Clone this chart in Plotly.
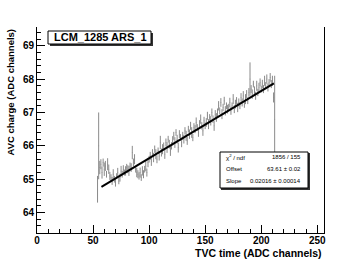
import plotly.graph_objects as go

# ---- data ----
x_channels = list(range(54, 213))
charge = [
    64.70, 66.00,
    65.35, 65.45, 65.20, 65.50, 65.30, 65.40, 65.15, 65.45, 65.30, 65.10,
    65.05, 64.95, 65.15, 65.00, 64.90, 65.10, 65.20, 64.95, 65.05, 65.25,
    65.15, 65.30, 65.20, 65.25, 65.35,
    65.30, 65.25, 65.40, 65.35, 65.80, 65.50, 65.60, 65.30, 65.20, 65.15,
    65.10, 65.20, 65.05, 65.25, 65.15, 65.30, 65.40, 65.20, 65.50, 65.60,
    65.70, 65.55, 65.80, 65.65, 65.90, 65.75, 65.60, 65.85, 65.70, 66.10,
    65.80, 65.90, 66.00, 65.75, 66.10, 65.95, 66.20, 66.05, 65.85, 66.00,
    66.15, 66.30, 66.10, 66.40, 66.20, 65.95, 66.35, 66.25, 66.10, 66.30,
    66.20, 66.45, 66.30, 66.15, 66.50, 66.35, 66.60, 66.40, 66.25, 66.55,
    66.50, 66.70, 66.55, 66.40, 66.65, 66.80, 66.60, 66.45, 66.75, 66.60,
    66.70, 66.90, 66.65, 66.85, 66.75, 67.00, 66.80, 66.60, 66.95, 66.85,
    67.00, 67.20, 67.05, 67.30, 66.95, 67.15, 67.35, 67.05, 67.20, 67.10,
    67.15, 67.30, 67.05, 67.20, 67.40, 67.10, 67.25, 67.35, 67.15, 67.30,
    67.20, 67.45, 67.30, 67.50, 67.25, 67.40, 67.55, 67.35, 67.60, 68.00,
    67.70, 67.55, 67.85, 67.65, 67.50, 67.80, 67.60, 67.75, 67.90, 67.70,
    67.85, 67.70, 67.95, 67.80, 68.00, 67.75, 67.90, 68.05, 67.85, 67.95,
    67.45, 66.80,
]
charge_err = [
    0.40, 1.00,
    0.20, 0.15, 0.18, 0.12, 0.20, 0.15, 0.10, 0.18, 0.14, 0.12,
    0.10, 0.12, 0.15, 0.10, 0.12, 0.08, 0.14, 0.10, 0.12, 0.15,
    0.10, 0.12, 0.09, 0.14, 0.11,
    0.12, 0.15, 0.10, 0.13, 0.20, 0.12, 0.15, 0.10, 0.14, 0.12,
    0.11, 0.15, 0.10, 0.14, 0.12, 0.10, 0.16, 0.12, 0.14, 0.10,
    0.12, 0.15, 0.10, 0.14, 0.11, 0.15, 0.12, 0.10, 0.14, 0.20,
    0.12, 0.15, 0.10, 0.14, 0.12, 0.16, 0.10, 0.13, 0.15, 0.11,
    0.14, 0.12, 0.16, 0.10, 0.13, 0.15, 0.12, 0.10, 0.14, 0.12,
    0.13, 0.11, 0.15, 0.12, 0.10, 0.14, 0.12, 0.16, 0.11, 0.13,
    0.12, 0.15, 0.10, 0.13, 0.12, 0.14, 0.11, 0.15, 0.12, 0.10,
    0.13, 0.12, 0.15, 0.10, 0.14, 0.12, 0.11, 0.15, 0.12, 0.13,
    0.12, 0.14, 0.10, 0.13, 0.15, 0.11, 0.12, 0.14, 0.10, 0.13,
    0.11, 0.14, 0.12, 0.10, 0.15, 0.12, 0.13, 0.11, 0.14, 0.12,
    0.10, 0.13, 0.12, 0.14, 0.11, 0.15, 0.12, 0.10, 0.13, 0.50,
    0.12, 0.14, 0.10, 0.13, 0.12, 0.15, 0.11, 0.14, 0.12, 0.10,
    0.13, 0.12, 0.15, 0.11, 0.14, 0.12, 0.10, 0.13, 0.12, 0.15,
    0.15, 1.30,
]
fit_offset = 63.61
fit_slope = 0.02016
fit_range = [57.5, 211.3]
x_ticks = [0, 50, 100, 150, 200, 250]
y_ticks = [64, 65, 66, 67, 68, 69]
title_text = "LCM_1285 ARS_1"
stats_labels = ["χ<sup>2</sup> / ndf", "Offset", "Slope"]
stats_values = ["1856 / 155", "63.61 ± 0.02", "0.02016 ± 0.00014"]

FONT = "Liberation Sans, Arial, sans-serif"
W, H = 360, 263
L, R, T, B = 37, 36, 27, 30
PW, PH = W - L - R, H - T - B


def px(xp):
    return (xp - L) / PW


def py(yp):
    return (H - B - yp) / PH


fig = go.Figure()
fig.add_trace(go.Scatter(
    x=x_channels, y=charge, mode="markers",
    marker=dict(size=1, color="#888", opacity=0.6),
    error_y=dict(type="data", array=charge_err, color="#8a8a8a", thickness=1, width=0),
    showlegend=False, hoverinfo="skip",
))
fit_x = fit_range
fit_y = [fit_offset + fit_slope * v for v in fit_x]
fig.add_trace(go.Scatter(
    x=fit_x, y=fit_y, mode="lines",
    line=dict(color="black", width=2),
    showlegend=False, hoverinfo="skip",
))

axis_font = dict(family=FONT, size=10, color="black", weight="bold")
fig.update_xaxes(
    range=[0, 256], tickvals=x_ticks, ticktext=[str(v) for v in x_ticks],
    ticks="inside", ticklen=8, tickcolor="black", tickwidth=1,
    minor=dict(dtick=10, tick0=0, ticks="inside", ticklen=4, tickcolor="black"),
    showline=True, linecolor="black", linewidth=1, mirror=False,
    showgrid=False, zeroline=False, tickfont=axis_font, automargin=False,
    ticklabelstandoff=-2,
)
fig.update_yaxes(
    range=[63.39, 69.56], tickvals=y_ticks, ticktext=[str(v) for v in y_ticks],
    ticks="inside", ticklen=8, tickcolor="black", tickwidth=1,
    minor=dict(dtick=0.2, tick0=64, ticks="inside", ticklen=4, tickcolor="black"),
    showline=True, linecolor="black", linewidth=1, mirror=True,
    showgrid=False, zeroline=False, tickfont=axis_font, automargin=False,
)

annotations = []
shapes = []
# axis titles
annotations.append(dict(
    text="TVC time (ADC channels)", xref="paper", yref="paper",
    x=1, y=py(253), xanchor="right", yanchor="middle", showarrow=False,
    font=dict(family=FONT, size=10.5, color="black", weight="bold"),
))
annotations.append(dict(
    text="AVC charge (ADC channels)", xref="paper", yref="paper",
    x=px(10), y=1, xanchor="center", yanchor="top", textangle=-90, showarrow=False,
    font=dict(family=FONT, size=9.5, color="black", weight="bold"),
))
# title box with shadow
shapes.append(dict(type="rect", xref="paper", yref="paper",
                   x0=px(50), x1=px(153), y0=py(46), y1=py(33),
                   fillcolor="#333", line=dict(width=0), layer="above"))
shapes.append(dict(type="rect", xref="paper", yref="paper",
                   x0=px(48), x1=px(151), y0=py(44), y1=py(31),
                   fillcolor="white", line=dict(color="black", width=1), layer="above"))
annotations.append(dict(
    text=title_text, xref="paper", yref="paper",
    x=px(100), y=py(37), xanchor="center", yanchor="middle", showarrow=False,
    font=dict(family=FONT, size=11, color="black", weight="bold"),
))
# stats box with shadow
shapes.append(dict(type="rect", xref="paper", yref="paper",
                   x0=px(221), x1=px(310), y0=py(190), y1=py(153),
                   fillcolor="#333", line=dict(width=0), layer="above"))
shapes.append(dict(type="rect", xref="paper", yref="paper",
                   x0=px(220), x1=px(308), y0=py(188), y1=py(152),
                   fillcolor="white", line=dict(color="black", width=1), layer="above"))
row_y = [157, 169, 181]
for lab, val, yy in zip(stats_labels, stats_values, row_y):
    annotations.append(dict(text=lab, xref="paper", yref="paper",
                            x=px(224), y=py(yy), xanchor="left", yanchor="middle",
                            showarrow=False,
                            font=dict(family=FONT, size=6, color="black")))
    annotations.append(dict(text=val, xref="paper", yref="paper",
                            x=px(303), y=py(yy), xanchor="right", yanchor="middle",
                            showarrow=False,
                            font=dict(family=FONT, size=6, color="black")))

fig.update_layout(
    width=W, height=H,
    margin=dict(l=L, r=R, t=T, b=B, autoexpand=False),
    paper_bgcolor="white", plot_bgcolor="white",
    annotations=annotations, shapes=shapes,
    showlegend=False,
)

fig.write_html(
    "out.html",
    config={"displayModeBar": False},
    post_script="document.body.style.margin='0';document.body.style.padding='0';",
)
